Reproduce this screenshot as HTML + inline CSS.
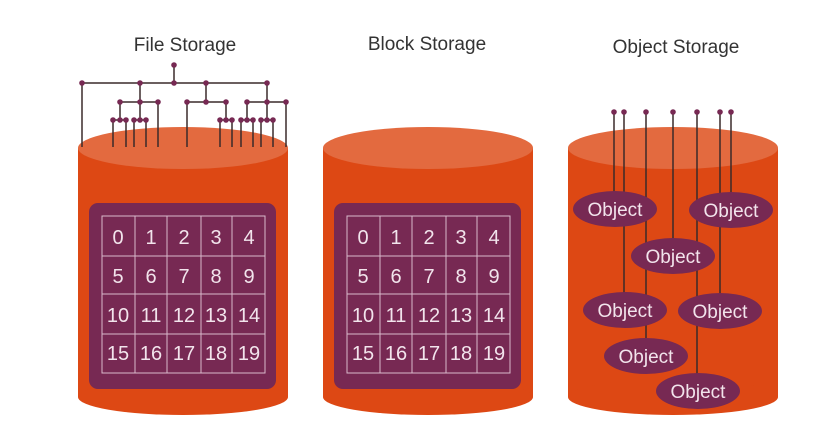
<!DOCTYPE html>
<html><head><style>body{margin:0;background:#fff}svg{display:block}</style></head><body>
<svg width="832" height="429" viewBox="0 0 832 429" xmlns="http://www.w3.org/2000/svg" font-family="Liberation Sans, sans-serif">
<defs>
<g id="cyl">
<rect x="0" y="148" width="210" height="249" fill="#dd4814"/>
<ellipse cx="105" cy="397" rx="105" ry="18" fill="#dd4814"/>
<ellipse cx="105" cy="148" rx="105" ry="21" fill="#e36a3f"/>
</g>
<g id="grid">
<rect x="11" y="203" width="187" height="186" rx="9" fill="#772953"/>
<g stroke="#d8b9cb" stroke-width="1" fill="none">
<rect x="24" y="216" width="163" height="157"/>
<line x1="57" y1="216" x2="57" y2="373"/><line x1="89" y1="216" x2="89" y2="373"/>
<line x1="123" y1="216" x2="123" y2="373"/><line x1="154" y1="216" x2="154" y2="373"/>
<line x1="24" y1="256" x2="187" y2="256"/><line x1="24" y1="294" x2="187" y2="294"/><line x1="24" y1="334" x2="187" y2="334"/>
</g>
<g fill="#f2e4ec" font-size="20" text-anchor="middle">
<text x="40" y="244">0</text><text x="73" y="244">1</text><text x="106" y="244">2</text><text x="138" y="244">3</text><text x="171" y="244">4</text>
<text x="40" y="283">5</text><text x="73" y="283">6</text><text x="106" y="283">7</text><text x="138" y="283">8</text><text x="171" y="283">9</text>
<text x="40" y="322">10</text><text x="73" y="322">11</text><text x="106" y="322">12</text><text x="138" y="322">13</text><text x="171" y="322">14</text>
<text x="40" y="360">15</text><text x="73" y="360">16</text><text x="106" y="360">17</text><text x="138" y="360">18</text><text x="171" y="360">19</text>
</g>
</g>
</defs>
<g fill="#333" font-size="19" text-anchor="middle">
<text x="185" y="51">File Storage</text>
<text x="427" y="50">Block Storage</text>
<text x="676" y="53">Object Storage</text>
</g>
<g transform="translate(78,0)"><use href="#cyl"/><use href="#grid"/></g>
<g transform="translate(323,0)"><use href="#cyl"/><use href="#grid"/></g>
<g transform="translate(568,0)"><use href="#cyl"/></g>
<!-- file tree -->
<g stroke="#3a2a2a" stroke-width="1.5" fill="none">
<line x1="174" y1="65" x2="174" y2="83"/>
<line x1="82" y1="83" x2="267" y2="83"/>
<line x1="82" y1="83" x2="82" y2="147"/>
<line x1="140" y1="83" x2="140" y2="102"/><line x1="206" y1="83" x2="206" y2="102"/><line x1="267" y1="83" x2="267" y2="102"/>
<line x1="120" y1="102" x2="158" y2="102"/><line x1="187" y1="102" x2="226" y2="102"/><line x1="247" y1="102" x2="286" y2="102"/>
<line x1="158" y1="102" x2="158" y2="147"/><line x1="187" y1="102" x2="187" y2="147"/><line x1="286" y1="102" x2="286" y2="147"/>
<line x1="120" y1="102" x2="120" y2="120"/><line x1="140" y1="102" x2="140" y2="120"/>
<line x1="226" y1="102" x2="226" y2="120"/><line x1="247" y1="102" x2="247" y2="120"/><line x1="267" y1="102" x2="267" y2="120"/>
<line x1="113" y1="120" x2="126" y2="120"/><line x1="134" y1="120" x2="146" y2="120"/>
<line x1="220" y1="120" x2="232" y2="120"/><line x1="241" y1="120" x2="253" y2="120"/><line x1="261" y1="120" x2="273" y2="120"/>
<g>
<line x1="113" y1="120" x2="113" y2="147"/><line x1="126" y1="120" x2="126" y2="147"/><line x1="134" y1="120" x2="134" y2="147"/><line x1="146" y1="120" x2="146" y2="147"/>
<line x1="220" y1="120" x2="220" y2="147"/><line x1="232" y1="120" x2="232" y2="147"/><line x1="241" y1="120" x2="241" y2="147"/><line x1="253" y1="120" x2="253" y2="147"/><line x1="261" y1="120" x2="261" y2="147"/><line x1="273" y1="120" x2="273" y2="147"/>
</g>
</g>
<g fill="#772953">
<circle cx="174" cy="65" r="2.8"/>
<circle cx="82" cy="83" r="2.8"/><circle cx="140" cy="83" r="2.8"/><circle cx="174" cy="83" r="2.8"/><circle cx="206" cy="83" r="2.8"/><circle cx="267" cy="83" r="2.8"/>
<circle cx="120" cy="102" r="2.8"/><circle cx="140" cy="102" r="2.8"/><circle cx="158" cy="102" r="2.8"/><circle cx="187" cy="102" r="2.8"/><circle cx="206" cy="102" r="2.8"/><circle cx="226" cy="102" r="2.8"/><circle cx="247" cy="102" r="2.8"/><circle cx="267" cy="102" r="2.8"/><circle cx="286" cy="102" r="2.8"/>
<circle cx="113" cy="120" r="2.8"/><circle cx="120" cy="120" r="2.8"/><circle cx="126" cy="120" r="2.8"/><circle cx="134" cy="120" r="2.8"/><circle cx="140" cy="120" r="2.8"/><circle cx="146" cy="120" r="2.8"/>
<circle cx="220" cy="120" r="2.8"/><circle cx="226" cy="120" r="2.8"/><circle cx="232" cy="120" r="2.8"/><circle cx="241" cy="120" r="2.8"/><circle cx="247" cy="120" r="2.8"/><circle cx="253" cy="120" r="2.8"/><circle cx="261" cy="120" r="2.8"/><circle cx="267" cy="120" r="2.8"/><circle cx="273" cy="120" r="2.8"/>
</g>
<!-- objects -->
<g stroke="#3a2a2a" stroke-width="1.5">
<line x1="614" y1="112" x2="614" y2="200"/><line x1="624" y1="112" x2="624" y2="300"/><line x1="646" y1="112" x2="646" y2="345"/>
<line x1="673" y1="112" x2="673" y2="250"/><line x1="697" y1="112" x2="697" y2="380"/><line x1="720" y1="112" x2="720" y2="300"/><line x1="731" y1="112" x2="731" y2="200"/>
</g>
<g fill="#772953">
<circle cx="614" cy="112" r="2.8"/><circle cx="624" cy="112" r="2.8"/><circle cx="646" cy="112" r="2.8"/><circle cx="673" cy="112" r="2.8"/><circle cx="697" cy="112" r="2.8"/><circle cx="720" cy="112" r="2.8"/><circle cx="731" cy="112" r="2.8"/>
<ellipse cx="615" cy="209" rx="42" ry="18"/>
<ellipse cx="731" cy="210" rx="42" ry="18"/>
<ellipse cx="673" cy="256" rx="42" ry="18"/>
<ellipse cx="625" cy="310" rx="42" ry="18"/>
<ellipse cx="720" cy="311" rx="42" ry="18"/>
<ellipse cx="646" cy="356" rx="42" ry="18"/>
<ellipse cx="698" cy="391" rx="42" ry="18"/>
</g>
<g fill="#f2e4ec" font-size="19" text-anchor="middle">
<text x="615" y="216">Object</text><text x="731" y="217">Object</text><text x="673" y="263">Object</text>
<text x="625" y="317">Object</text><text x="720" y="318">Object</text><text x="646" y="363">Object</text><text x="698" y="398">Object</text>
</g>
</svg>
</body></html>
